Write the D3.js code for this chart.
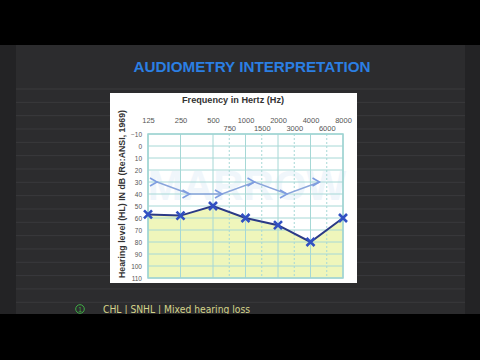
<!DOCTYPE html>
<html><head><meta charset="utf-8">
<script src="https://cdn.jsdelivr.net/npm/d3@7"></script>
<style>html,body{margin:0;padding:0;background:#000;}svg{display:block;}</style>
</head><body>
<svg id="c" width="480" height="360"></svg>
<script>
// ---- data ----
const octaveFreqs = [125, 250, 500, 1000, 2000, 4000, 8000];
const midFreqs = [750, 1500, 3000, 6000];
const dbTicks = [-10, 0, 10, 20, 30, 40, 50, 60, 70, 80, 90, 100, 110];
const airValues = [57, 58, 50, 60, 66, 80, 60];
const boneFreqs = [125, 250, 500, 1000, 2000, 4000];
const boneValues = [30, 40, 40, 30, 40, 30];
const titleText = "AUDIOMETRY INTERPRETATION";
const xTitle = "Frequency in Hertz (Hz)";
const yTitle = "Hearing level (HL) IN dB (Re:ANSI, 1969)";
const noteText = "CHL | SNHL | Mixed hearing loss";

const svg = d3.select("#c");
const W = 480, H = 360;

// slide background
svg.append("rect").attr("width", W).attr("height", H).attr("fill", "#000");
svg.append("rect").attr("x", 0).attr("y", 45).attr("width", W).attr("height", 269).attr("fill", "#232325");
svg.append("rect").attr("x", 16).attr("y", 45).attr("width", 449).attr("height", 269).attr("fill", "#2c2c2e");
const ruleY = d3.range(89, 314, 13.33);
svg.append("g").selectAll("line").data(ruleY).join("line")
  .attr("x1", 16).attr("x2", 465).attr("y1", d => d).attr("y2", d => d)
  .attr("stroke", "#3a3a3d").attr("stroke-width", 1);

// title
svg.append("text").attr("x", 252).attr("y", 72).attr("text-anchor", "middle")
  .attr("font-family", "Liberation Sans, Arial, sans-serif").attr("font-weight", "bold")
  .attr("font-size", 14).attr("fill", "#2b7fe3").attr("textLength", 237).attr("lengthAdjust", "spacingAndGlyphs")
  .text(titleText);

// white card
svg.append("rect").attr("x", 110).attr("y", 93).attr("width", 247).attr("height", 190).attr("fill", "#ffffff");

// scales
const x = d3.scaleLog().base(2).domain([125, 8000]).range([148, 343]);
const y = d3.scaleLinear().domain([-10, 110]).range([134, 278]);
const midX = f => x(f / 1.5 * Math.SQRT2); // half-octave position on audiogram

const font = "Liberation Sans, Arial, sans-serif";

// fill under air conduction line
const area = d3.area().x((d, i) => x(octaveFreqs[i])).y0(y(110)).y1(d => y(d));
svg.append("path").datum(airValues).attr("d", area).attr("fill", "#eff6bb");

// watermark
svg.append("text").attr("x", 247).attr("y", 200).attr("text-anchor", "middle")
  .attr("font-family", font).attr("font-weight", "bold").attr("font-size", 42)
  .attr("fill", "#cfe3f3").attr("opacity", 0.3).text("MARROW");

// grid
const grid = svg.append("g").attr("stroke", "#a6d8d6").attr("stroke-width", 1);
grid.selectAll("line.h").data(dbTicks).join("line").attr("class", "h")
  .attr("x1", x(125)).attr("x2", x(8000)).attr("y1", d => y(d)).attr("y2", d => y(d));
grid.selectAll("line.v").data(octaveFreqs).join("line").attr("class", "v")
  .attr("x1", d => x(d)).attr("x2", d => x(d)).attr("y1", y(-10)).attr("y2", y(110));
grid.selectAll("line.m").data(midFreqs).join("line").attr("class", "m")
  .attr("x1", d => midX(d)).attr("x2", d => midX(d)).attr("y1", y(-10)).attr("y2", y(110))
  .attr("stroke-dasharray", "2,2");
svg.append("rect").attr("x", x(125)).attr("y", y(-10)).attr("width", x(8000) - x(125)).attr("height", y(110) - y(-10))
  .attr("fill", "none").attr("stroke", "#9fd3d2").attr("stroke-width", 1.5);

// axes labels
const topAxis = d3.axisTop(x).tickValues(octaveFreqs).tickSize(0).tickPadding(3).tickFormat(d3.format("d"));
const gTop = svg.append("g").attr("transform", `translate(0,126)`).call(topAxis);
const midAxis = d3.axisTop(d3.scaleIdentity()).tickValues(midFreqs.map(midX)).tickSize(0).tickPadding(3)
  .tickFormat((d, i) => midFreqs[i]);
const gMid = svg.append("g").attr("transform", `translate(0,134)`).call(midAxis);
const leftAxis = d3.axisLeft(y).tickValues(dbTicks).tickSize(0).tickPadding(3);
const gLeft = svg.append("g").attr("transform", `translate(145,0)`).call(leftAxis);
[gTop, gMid, gLeft].forEach(g => {
  g.select(".domain").remove();
  g.selectAll("text").attr("font-family", font).attr("font-size", 7.5).attr("fill", "#555");
});
gLeft.selectAll("text").attr("font-size", 6.5);

svg.append("text").attr("x", 233).attr("y", 103).attr("text-anchor", "middle")
  .attr("font-family", font).attr("font-weight", "bold").attr("font-size", 9).attr("fill", "#333")
  .attr("textLength", 102).attr("lengthAdjust", "spacingAndGlyphs").text(xTitle);
svg.append("text").attr("transform", "translate(125,194) rotate(-90)").attr("text-anchor", "middle")
  .attr("font-family", font).attr("font-weight", "bold").attr("font-size", 8.5).attr("fill", "#333")
  .attr("textLength", 168).attr("lengthAdjust", "spacingAndGlyphs").text(yTitle);

// bone conduction
const bOff = 9;
const boneLine = d3.line().x((d, i) => x(boneFreqs[i]) + bOff).y(d => y(d));
svg.append("path").datum(boneValues).attr("d", boneLine).attr("fill", "none")
  .attr("stroke", "#8aa5db").attr("stroke-width", 1.6);
svg.append("g").selectAll("path").data(boneValues).join("path")
  .attr("transform", (d, i) => `translate(${x(boneFreqs[i]) + bOff},${y(d)})`)
  .attr("d", "M-7,-4L0,0L-7,4").attr("fill", "none").attr("stroke", "#7e9de0").attr("stroke-width", 1.6);

// air conduction
const airLine = d3.line().x((d, i) => x(octaveFreqs[i])).y(d => y(d));
svg.append("path").datum(airValues).attr("d", airLine).attr("fill", "none")
  .attr("stroke", "#2b3a86").attr("stroke-width", 2);
svg.append("g").selectAll("path").data(airValues).join("path")
  .attr("transform", (d, i) => `translate(${x(octaveFreqs[i])},${y(d)})`)
  .attr("d", "M-4,-4L4,4M-4,4L4,-4").attr("fill", "none").attr("stroke", "#3150c2").attr("stroke-width", 2.6);

// handwritten note
svg.append("circle").attr("cx", 80).attr("cy", 309).attr("r", 4.3).attr("fill", "none")
  .attr("stroke", "#3fae45").attr("stroke-width", 1);
svg.append("text").attr("x", 80).attr("y", 311.5).attr("text-anchor", "middle").attr("font-family", font)
  .attr("font-size", 6.5).attr("fill", "#3fae45").text("1");
svg.append("text").attr("x", 103).attr("y", 313).attr("font-family", "DejaVu Sans, sans-serif")
  .attr("font-size", 10).attr("fill", "#d5d48a").attr("textLength", 147).attr("lengthAdjust", "spacingAndGlyphs")
  .text(noteText);

// bottom letterbox
svg.append("rect").attr("x", 0).attr("y", 314).attr("width", W).attr("height", H - 314).attr("fill", "#000");
</script>
</body></html>
